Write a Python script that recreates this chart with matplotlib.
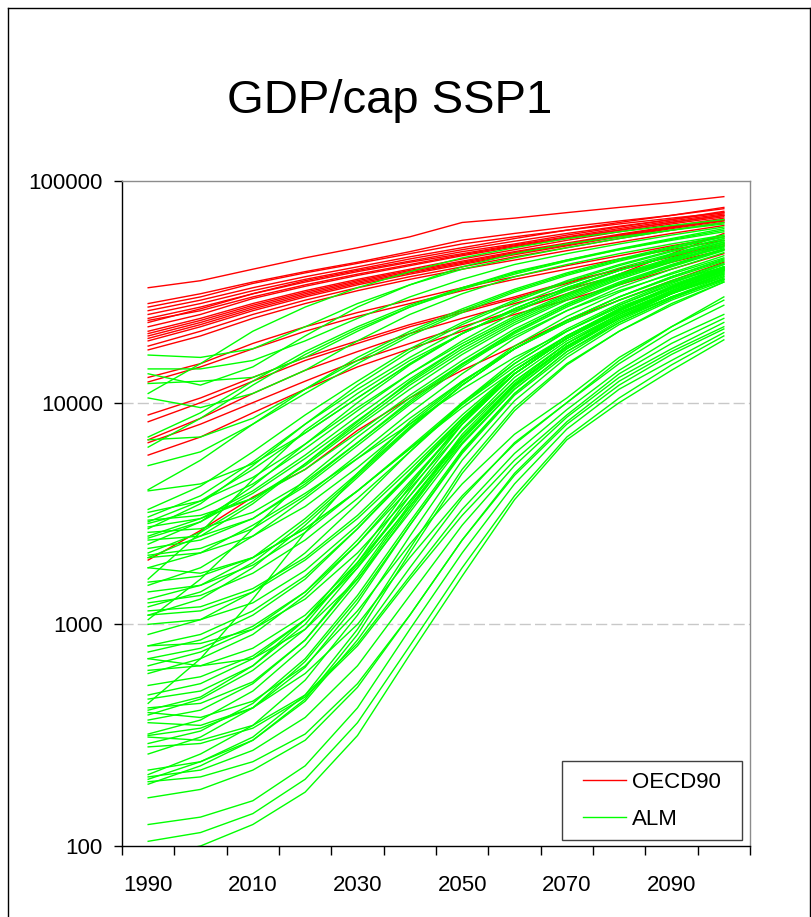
import matplotlib
matplotlib.use('Agg')
import matplotlib.pyplot as plt
from matplotlib.lines import Line2D
from matplotlib.patches import Rectangle
from matplotlib.ticker import NullLocator

plt.rcParams['font.family'] = ['Liberation Sans', 'DejaVu Sans']

years = [1990, 2000, 2010, 2020, 2030, 2040, 2050, 2060, 2070, 2080, 2090, 2100]

# OECD90 regions / countries
oecd90 = [
    [33000, 35500, 40000, 45000, 50000, 56000, 65000, 68000, 72000, 76000, 80000, 85000],
    [28000, 31000, 35000, 39000, 43000, 48000, 54000, 58000, 62000, 66000, 70000, 75000],
    [27000, 30000, 34500, 38500, 42500, 47000, 52000, 56000, 60000, 64000, 68000, 72000],
    [26000, 29000, 33000, 37000, 41000, 45500, 50000, 55000, 60000, 65000, 70000, 76000],
    [25000, 28000, 32000, 36000, 40000, 44500, 49000, 53500, 58000, 62500, 67000, 72000],
    [24000, 27000, 31000, 35500, 39500, 43500, 48000, 52000, 57000, 62000, 67000, 73000],
    [23500, 26000, 30000, 34000, 38000, 42000, 46500, 51000, 55500, 60000, 65000, 70000],
    [23000, 26500, 31000, 35000, 39000, 43000, 47000, 51500, 56000, 61000, 66000, 71000],
    [22000, 25000, 29500, 33500, 37500, 41500, 46000, 50500, 55000, 60000, 65000, 70000],
    [21000, 24000, 28000, 32000, 36000, 40000, 44500, 49000, 54000, 59000, 64000, 69000],
    [20500, 23500, 27500, 31500, 35500, 39500, 43500, 48000, 52500, 57500, 62500, 68000],
    [20000, 23000, 27000, 31000, 35000, 39000, 43000, 47500, 52000, 57000, 62000, 67000],
    [19500, 22500, 26500, 30500, 34500, 38500, 42500, 47000, 51500, 56500, 61500, 66500],
    [19000, 22000, 26000, 30000, 34000, 38000, 42000, 46500, 51000, 56000, 61000, 66000],
    [18000, 21000, 25000, 29000, 33000, 37000, 41000, 45500, 50000, 55000, 60000, 65000],
    [17300, 20000, 24000, 28000, 32000, 36000, 40000, 44000, 48500, 53000, 58000, 63000],
    [13000, 15000, 18500, 22000, 25500, 29000, 33000, 37000, 41500, 46000, 51000, 56000],
    [12400, 14500, 17500, 21000, 24500, 28000, 32000, 36000, 40000, 44500, 49000, 54000],
    [8800, 10500, 13000, 16000, 19000, 22500, 26000, 30000, 35000, 40000, 45500, 51000],
    [8200, 10000, 12500, 15500, 18500, 22000, 25500, 29500, 34500, 40000, 46000, 52000],
    [6800, 8500, 11000, 14000, 17000, 20500, 24000, 28000, 32500, 37500, 43000, 49000],
    [6600, 8000, 10000, 12500, 15500, 18500, 22000, 26000, 31000, 38000, 47000, 58000],
    [5800, 7000, 9000, 11500, 14500, 17500, 21000, 25000, 29000, 34000, 40000, 47000],
    [1950, 2650, 3750, 5000, 7500, 10500, 14000, 18000, 23500, 29000, 35500, 43000],
]

# ALM: high income starters
alm_high = [
    [16400, 16000, 17500, 22000, 28000, 34000, 40000, 45000, 50000, 55000, 60000, 65000],
    [14200, 14200, 15500, 19000, 24000, 30000, 36000, 42000, 47000, 52000, 57000, 62000],
    [13500, 12000, 14500, 20000, 27000, 34000, 41000, 47000, 52000, 56000, 60000, 64000],
    [12200, 12500, 13000, 16000, 21000, 27000, 33000, 39000, 44000, 49000, 54000, 59000],
    [11000, 15000, 21000, 27000, 33000, 39000, 45000, 50000, 55000, 59000, 63000, 67000],
    [10500, 9500, 11000, 14000, 19000, 25000, 31000, 37000, 42000, 47000, 52000, 57000],
]

# ALM: middle income starters
alm_mid = [
    [7000, 9000, 12500, 17000, 22000, 27500, 33000, 38500, 44000, 49500, 55000, 61000],
    [6800, 7000, 8500, 11500, 15500, 20500, 26000, 32000, 38000, 44000, 50000, 56000],
    [6300, 8500, 12000, 16500, 21500, 27000, 32500, 38000, 43500, 49000, 54500, 60000],
    [5200, 6000, 8000, 11000, 15000, 20000, 25500, 31500, 37500, 43500, 49500, 56000],
    [4050, 5500, 8000, 11500, 16000, 21000, 26500, 32500, 38500, 44500, 50500, 57000],
    [4000, 4300, 5300, 7300, 10500, 15000, 20500, 26500, 33000, 39500, 46000, 53000],
    [3300, 4200, 6000, 8800, 12500, 17500, 23000, 29000, 35500, 42000, 48500, 55000],
    [3200, 3600, 4600, 6500, 9500, 13500, 18500, 24500, 31000, 38000, 45000, 52000],
    [3050, 3800, 5400, 8000, 11500, 16000, 21500, 27500, 34000, 40500, 47000, 54000],
    [2950, 3100, 3700, 5000, 7300, 10800, 15500, 21500, 28000, 35000, 42000, 49500],
    [2900, 3600, 5000, 7300, 10500, 15000, 20500, 26500, 33000, 39500, 46000, 53000],
    [2850, 3300, 4300, 6200, 9200, 13500, 19000, 25500, 32500, 39500, 46500, 54000],
    [2750, 3000, 3700, 5200, 7800, 11500, 16500, 22500, 29000, 36000, 43000, 50500],
    [2700, 3500, 5200, 8000, 12000, 17000, 22500, 28500, 35000, 41500, 48000, 55000],
    [2600, 2700, 3200, 4400, 6600, 10000, 14800, 20800, 27500, 34500, 41500, 49000],
    [2500, 3000, 4000, 5800, 8700, 12800, 18000, 24000, 30500, 37500, 44500, 52000],
    [2450, 2900, 3900, 5600, 8300, 12300, 17500, 23500, 30000, 37000, 44000, 51000],
    [2400, 2500, 3000, 4200, 6400, 9800, 14500, 20500, 27000, 34000, 41000, 48500],
    [2300, 2900, 4200, 6500, 10000, 14800, 20500, 26500, 33000, 39500, 46000, 53000],
    [2200, 2400, 3000, 4300, 6600, 10200, 15000, 21000, 27500, 34500, 41500, 49000],
    [2100, 2600, 3600, 5300, 8000, 12000, 17000, 23000, 29500, 36500, 43500, 51000],
    [2050, 2200, 2700, 3800, 5800, 9000, 13500, 19500, 26000, 33000, 40000, 47500],
    [2000, 2500, 3500, 5300, 8200, 12500, 18000, 24000, 30500, 37500, 44500, 52000],
    [2000, 2100, 2500, 3400, 5100, 8000, 12300, 18000, 24500, 31500, 38500, 46000],
]

# ALM: lower-middle income starters
alm_low = [
    [1800, 2100, 2800, 3900, 5600, 8000, 11500, 16000, 21000, 27000, 33000, 40000],
    [1800, 1700, 2000, 2700, 4000, 6200, 9500, 14000, 19500, 25500, 32000, 39000],
    [1600, 2600, 4500, 7500, 11000, 15500, 20500, 26000, 32000, 38000, 44000, 50000],
    [1550, 1650, 2000, 2700, 4000, 6200, 9800, 14500, 20000, 26000, 32500, 39500],
    [1500, 1800, 2500, 3700, 5600, 8500, 12500, 17500, 23000, 29000, 35500, 42500],
    [1400, 1500, 1850, 2600, 4000, 6300, 10000, 15000, 21000, 27500, 34500, 42000],
    [1300, 1500, 2000, 3000, 4800, 7800, 12000, 17500, 23500, 30000, 37000, 44000],
    [1250, 1350, 1700, 2400, 3700, 6000, 9800, 15000, 21000, 27500, 34000, 41000],
    [1200, 1400, 1900, 2900, 4700, 7700, 12000, 17500, 23500, 30000, 37000, 44500],
    [1150, 1200, 1450, 2000, 3100, 5200, 8800, 14000, 20000, 26500, 33500, 41000],
    [1100, 1300, 1800, 2800, 4600, 7600, 12000, 17500, 23500, 30000, 36500, 43500],
    [1100, 1150, 1400, 1950, 3000, 5000, 8500, 13500, 19500, 26000, 33000, 40500],
    [1050, 1600, 2700, 4500, 7000, 10500, 15000, 20000, 26000, 32000, 38000, 45000],
    [1000, 1050, 1250, 1750, 2800, 4800, 8300, 13500, 19500, 26000, 33000, 40500],
    [900, 1050, 1400, 2100, 3500, 6000, 10000, 15500, 21500, 28000, 35000, 42000],
    [800, 900, 1150, 1650, 2700, 4700, 8200, 13500, 19500, 26000, 33000, 40000],
    [800, 820, 950, 1300, 2100, 3800, 7000, 12000, 18000, 24500, 31500, 39000],
    [750, 850, 1100, 1600, 2700, 4800, 8500, 14000, 20000, 26500, 33500, 41000],
    [700, 780, 980, 1400, 2300, 4100, 7500, 12500, 18500, 25000, 32000, 39500],
    [700, 650, 700, 950, 1600, 3200, 6500, 11500, 17500, 24000, 31000, 38500],
    [650, 750, 950, 1400, 2400, 4400, 8000, 13500, 19500, 26000, 33000, 40500],
    [620, 650, 780, 1100, 1900, 3600, 6800, 11800, 17800, 24000, 31000, 38000],
    [600, 700, 900, 1350, 2300, 4300, 8000, 13500, 19500, 26000, 33000, 40000],
    [530, 580, 720, 1050, 1800, 3400, 6600, 11500, 17500, 24000, 31000, 38500],
    [480, 540, 700, 1050, 1850, 3600, 7000, 12200, 18500, 25000, 32000, 39500],
]

# ALM: low income starters that converge early
alm_poor_early = [
    [460, 500, 650, 1000, 1900, 4000, 8000, 13500, 19500, 25500, 31000, 37000],
    [440, 700, 1300, 2600, 4800, 8200, 12500, 17500, 23000, 29000, 35000, 41000],
    [420, 440, 550, 850, 1600, 3400, 7000, 12000, 18000, 24000, 30000, 36000],
    [410, 470, 650, 1050, 2000, 4200, 8300, 14000, 20000, 26500, 33000, 40000],
    [390, 460, 620, 950, 1800, 3800, 7600, 13000, 19000, 25000, 31500, 38000],
    [370, 410, 540, 850, 1650, 3500, 7200, 12500, 18500, 24500, 31000, 37500],
    [320, 370, 500, 800, 1550, 3300, 6800, 12000, 18000, 24000, 30000, 36000],
    [315, 340, 420, 640, 1250, 2800, 6000, 11000, 17000, 23000, 29500, 36000],
    [290, 330, 440, 700, 1350, 2900, 6100, 11000, 17000, 23500, 30000, 37000],
    [260, 310, 420, 680, 1300, 2800, 5900, 10800, 16500, 23000, 29500, 36500],
    [210, 260, 350, 560, 1100, 2500, 5500, 10200, 16000, 22500, 29000, 35500],
    [200, 240, 310, 480, 950, 2200, 5000, 9500, 15000, 21000, 27500, 35000],
    [190, 230, 300, 460, 900, 2100, 4800, 9200, 14800, 21000, 28000, 35000],
]

# ALM: low income starters that converge late
alm_poor_late = [
    [90, 100, 125, 175, 315, 730, 1650, 3650, 6800, 10000, 14000, 19200],
    [105, 115, 140, 200, 360, 800, 1800, 3800, 7000, 10500, 14800, 20000],
    [125, 135, 160, 230, 420, 950, 2100, 4300, 7600, 11500, 15500, 20700],
    [165, 180, 220, 300, 520, 1100, 2400, 4700, 8000, 12000, 16500, 21500],
    [195, 205, 240, 320, 540, 1100, 2400, 4800, 8200, 12500, 17000, 22000],
    [205, 220, 270, 380, 650, 1350, 2800, 5200, 8600, 13000, 17500, 23000],
    [280, 290, 340, 470, 800, 1600, 3100, 5500, 8800, 13500, 18500, 24000],
    [310, 300, 350, 480, 820, 1650, 3300, 5900, 9300, 14000, 19500, 25000],
    [360, 350, 420, 600, 1000, 2000, 3800, 6500, 10000, 15000, 21000, 27500],
    [400, 380, 450, 650, 1150, 2300, 4300, 7200, 10500, 16000, 22000, 29000],
    [220, 240, 300, 450, 850, 1800, 3700, 6600, 10000, 15500, 22000, 30000],
]

alm = alm_high + alm_mid + alm_low + alm_poor_early + alm_poor_late

red = '#ff0000'
green = '#00ff00'

W, H = 811, 917
fig = plt.figure(figsize=(W / 100, H / 100), dpi=100)
ax = fig.add_axes([122 / W, 1 - 846 / H, 628 / W, 665 / H])

for s in oecd90:
    ax.plot(years, s, color=red, lw=1.0)
for s in alm:
    ax.plot(years, s, color=green, lw=1.0)

ax.set_yscale('log')
ax.set_ylim(100, 100000)
ax.set_xlim(1985, 2105)

ax.set_yticks([100, 1000, 10000, 100000], labels=['100', '1000', '10000', '100000'])
ax.yaxis.set_minor_locator(NullLocator())
ax.tick_params(axis='y', length=5.8, width=1, pad=8, labelsize=16, direction='out')

# category axis: tick marks between years, labels every other year
ax.set_xticks(list(range(1985, 2106, 10)), labels=[''] * 13)
ax.set_xticks(list(range(1990, 2091, 20)), labels=[str(y) for y in range(1990, 2091, 20)], minor=True)
ax.tick_params(axis='x', which='major', length=6.5, width=1, direction='out')
ax.tick_params(axis='x', which='minor', length=0, pad=21, labelsize=16)

for v in [1000, 10000]:
    ax.axhline(v, color='#c8c8c8', lw=1.0, linestyle=(0, (8, 3)), zorder=0)

for side in ['left', 'bottom']:
    ax.spines[side].set_color('black')
    ax.spines[side].set_linewidth(1)
for side in ['top', 'right']:
    ax.spines[side].set_color('#8c8c8c')
    ax.spines[side].set_linewidth(1)

# legend box drawn separately so the inner padding can match the original
box = Rectangle((562 / W, 1 - 840 / H), 180 / W, 79 / H, transform=fig.transFigure,
                facecolor='white', edgecolor='#404040', lw=1, zorder=4.5, clip_on=False)
ax.add_patch(box)
handles = [Line2D([], [], color=red, lw=1.0), Line2D([], [], color=green, lw=1.0)]
ax.legend(handles, ['OECD90', 'ALM'], loc='upper left',
          bbox_to_anchor=(583 / W, 1 - 772 / H), bbox_transform=fig.transFigure,
          borderaxespad=0, borderpad=0, frameon=False, fontsize=16,
          labelspacing=0.72, handlelength=1.94, handletextpad=0.27)

fig.text(390 / W, 1 - 113 / H, 'GDP/cap SSP1', fontsize=34, ha='center', va='baseline')

# outer frame of the picture
for xs, ys in [([8, 8], [H, 8]), ([8, 810], [8, 8]), ([810, 810], [8, H])]:
    fig.add_artist(Line2D([x / W for x in xs], [1 - y / H for y in ys],
                          transform=fig.transFigure, color='black', lw=1))

fig.savefig('out.png', dpi=100)
